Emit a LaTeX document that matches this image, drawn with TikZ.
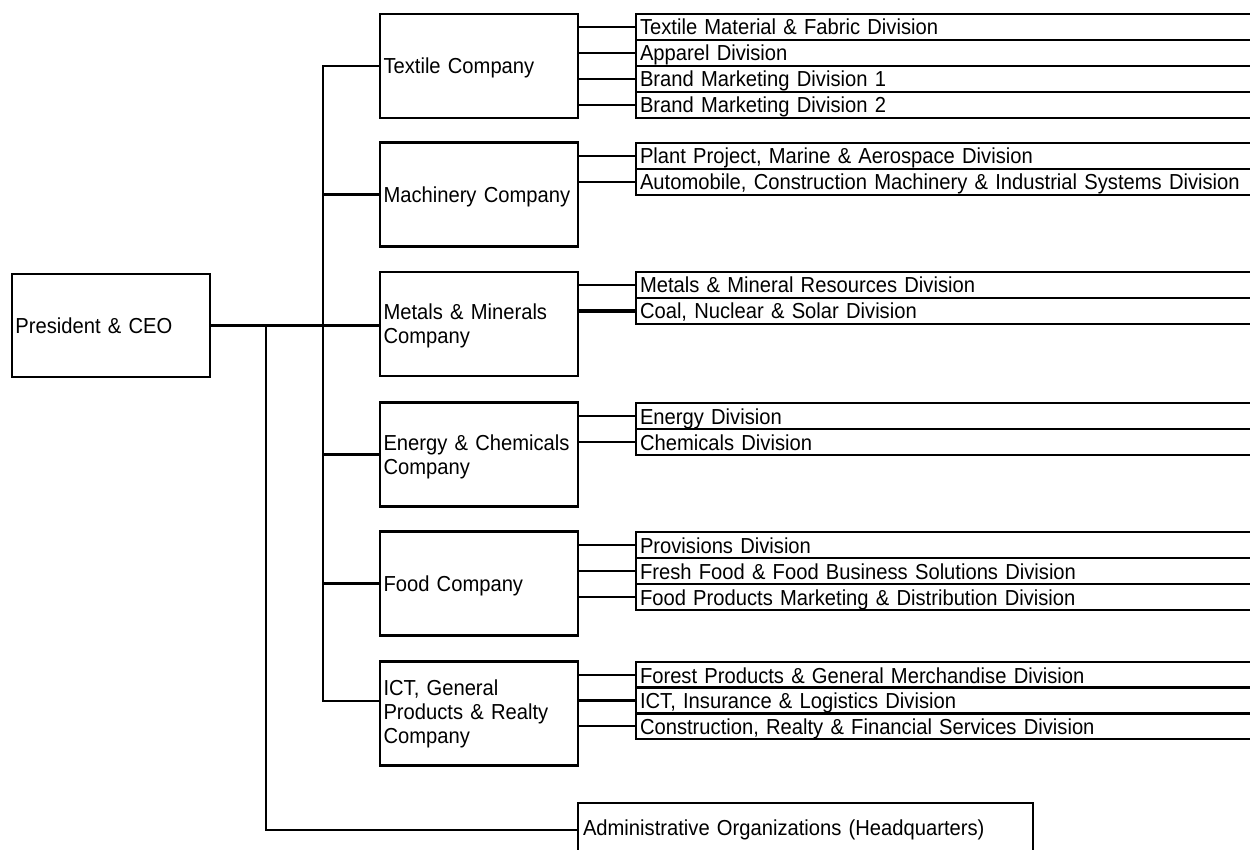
\documentclass[tikz,border=0pt]{standalone}
\usepackage{fontspec}
\setmainfont{Liberation Sans}[FakeStretch=0.93]
\begin{document}
\begin{tikzpicture}[x=1pt,y=-1pt,
  every node/.style={font=\fontsize{21.7}{24}\selectfont},
  box/.style={draw, line width=2.3pt, rectangle, minimum width=198pt, minimum height=104pt, inner xsep=3.5pt, text width=191pt, align=left},
  cbox/.style={box, execute at begin node={\rule{0pt}{20pt}}},
  divbox/.style={draw, line width=2.3pt, rectangle, minimum width=626pt, minimum height=26pt, inner xsep=4pt, inner ysep=0pt, text width=618pt, align=left, text height=19pt, text depth=3pt},
  link/.style={line width=2.2pt},
  thicklink/.style={line width=3.6pt}]
\useasboundingbox (0,0) rectangle (1250,850);
\clip (0,0) rectangle (1250,850);

% top level
\node[box, minimum height=103pt] (pres) at (111,325.5) {President \& CEO};

% companies
\node[cbox] (textile)   at (479,66)    {Textile Company};
\node[cbox] (machinery) at (479,194.5) {Machinery Company};
\node[cbox] (metals)    at (479,324)   {Metals \& Minerals\\Company};
\node[cbox] (energy)    at (479,454.5) {Energy \& Chemicals\\Company};
\node[cbox] (food)      at (479,583.5) {Food Company};
\node[box]  (ict)       at (479,713.5) {ICT, General\\Products \& Realty\\Company};

% divisions
\node[divbox] (t1) at (949,27)  {Textile Material \& Fabric Division};
\node[divbox] (t2) at (949,53)  {Apparel Division};
\node[divbox] (t3) at (949,79)  {Brand Marketing Division 1};
\node[divbox] (t4) at (949,105) {Brand Marketing Division 2};

\node[divbox] (m1) at (949,156) {Plant Project, Marine \& Aerospace Division};
\node[divbox] (m2) at (949,182) {Automobile, Construction Machinery \& Industrial Systems Division};

\node[divbox] (mm1) at (949,285) {Metals \& Mineral Resources Division};
\node[divbox] (mm2) at (949,311) {Coal, Nuclear \& Solar Division};

\node[divbox] (e1) at (949,416) {Energy Division};
\node[divbox] (e2) at (949,442) {Chemicals Division};

\node[divbox] (f1) at (949,545) {Provisions Division};
\node[divbox] (f2) at (949,571) {Fresh Food \& Food Business Solutions Division};
\node[divbox] (f3) at (949,597) {Food Products Marketing \& Distribution Division};

\node[divbox] (i1) at (949,675)   {Forest Products \& General Merchandise Division};
\node[divbox] (i2) at (949,700.5) {ICT, Insurance \& Logistics Division};
\node[divbox] (i3) at (949,726)   {Construction, Realty \& Financial Services Division};

% administrative
\node[draw, line width=2.3pt, rectangle, minimum width=455pt, minimum height=54pt, inner xsep=5pt, text width=445pt, align=left] (admin) at (805.5,830) {Administrative Organizations (Headquarters)};

% helper coordinates
\coordinate (tr) at (323,0);
\coordinate (ictjoin) at (380,701);
\coordinate (admjoin) at (266,325);

% trunk
\draw[link] (textile.west) -- (textile.west -| tr) -- (ictjoin -| tr) -- (ictjoin);
\draw[link] (machinery.west -| tr) -- (machinery.west);
\draw[link] (pres.east) -- (pres.east -| metals.west);
\draw[link] (energy.west -| tr) -- (energy.west);
\draw[link] (food.west -| tr) -- (food.west);
\draw[link] (admjoin) |- (admin.west);

% company to divisions
\foreach \d in {t1,t2,t3,t4} \draw[link] (textile.east |- \d.west) -- (\d.west);
\foreach \d in {m1,m2} \draw[link] (machinery.east |- \d.west) -- (\d.west);
\draw[link] (metals.east |- mm1.west) -- (mm1.west);
\draw[thicklink] (metals.east |- mm2.west) -- (mm2.west);
\foreach \d in {e1,e2} \draw[link] (energy.east |- \d.west) -- (\d.west);
\foreach \d in {f1,f2,f3} \draw[link] (food.east |- \d.west) -- (\d.west);
\foreach \d in {i1,i2,i3} \draw[link] (ict.east |- \d.west) -- (\d.west);
\end{tikzpicture}
\end{document}
